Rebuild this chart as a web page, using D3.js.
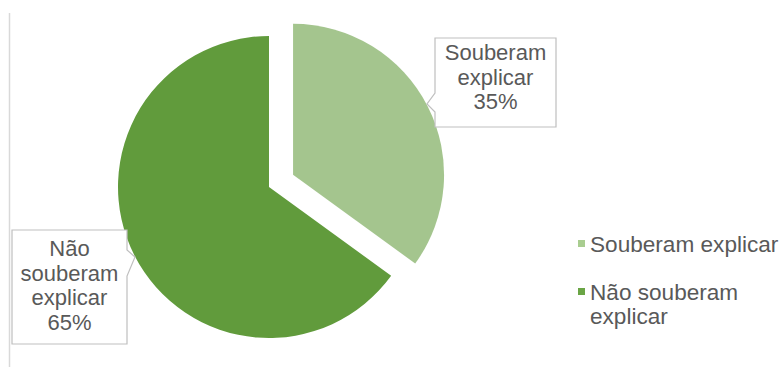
<!DOCTYPE html>
<html><head><meta charset="utf-8">
<script src="https://cdn.jsdelivr.net/npm/d3@7"></script>
<style>body{margin:0;background:#fff}svg{display:block}</style>
</head><body>
<script>
const categories = ["Souberam explicar", "Não souberam explicar"];
const values = [35, 65];
const colors = ["#a4c58e", "#619b3c"];
const legendColors = ["#a9cd90", "#6aa545"];
const labelLines = [["Souberam", "explicar", "35%"], ["Não", "souberam", "explicar", "65%"]];
const legendLines = [["Souberam explicar"], ["Não souberam", "explicar"]];

const W = 782, H = 367;
const svg = d3.select("body").append("svg").attr("width", W).attr("height", H);
const font = "'Liberation Sans', Arial, sans-serif";
const textColor = "#595959";

// left border line
svg.append("line").attr("x1", 9.5).attr("x2", 9.5).attr("y1", 13).attr("y2", H)
  .attr("stroke", "#d9d9d9").attr("stroke-width", 1.5);

const cx = 269, cy = 187, r = 151;
const pie = d3.pie().sort(null).value(d => d);
const arcs = pie(values);
const arc = d3.arc().innerRadius(0).outerRadius(r);
const explode = [27, 0];

const g = svg.append("g").attr("transform", `translate(${cx},${cy})`);
g.selectAll("path").data(arcs).join("path")
  .attr("d", arc)
  .attr("fill", (d, i) => colors[i])
  .attr("transform", (d, i) => {
    const a = (d.startAngle + d.endAngle) / 2;
    return `translate(${explode[i] * Math.sin(a)},${-explode[i] * Math.cos(a)})`;
  });

// callout boxes
const boxes = [
  {x0: 435, x1: 556, y0: 38, y1: 127, side: "left", p: [93, 427, 104, 112], cx: 495.5, base: 60},
  {x0: 12, x1: 127, y0: 230, y1: 344, side: "right", p: [250, 135, 257, 276], cx: 69.5, base: 256}
];
boxes.forEach((b, i) => {
  let d;
  if (b.side === "left") {
    d = `M${b.x0},${b.y0}H${b.x1}V${b.y1}H${b.x0}V${b.p[3]}L${b.p[1]},${b.p[2]}L${b.x0},${b.p[0]}Z`;
  } else {
    d = `M${b.x0},${b.y0}H${b.x1}V${b.p[0]}L${b.p[1]},${b.p[2]}L${b.x1},${b.p[3]}V${b.y1}H${b.x0}Z`;
  }
  svg.append("path").attr("d", d).attr("fill", "#fff").attr("stroke", "#bfbfbf").attr("stroke-width", 1.2);
  const t = svg.append("text").attr("font-family", font).attr("font-size", 22)
    .attr("fill", textColor).attr("text-anchor", "middle");
  labelLines[i].forEach((ln, k) => {
    t.append("tspan").attr("x", b.cx).attr("y", b.base + k * 24.5).text(ln);
  });
});

// legend
const legY = [252, 300];
categories.forEach((c, i) => {
  svg.append("rect").attr("x", 578).attr("y", legY[i] - 12).attr("width", 7).attr("height", 7)
    .attr("fill", legendColors[i]);
  const t = svg.append("text").attr("font-family", font).attr("font-size", 22.6).attr("fill", textColor);
  legendLines[i].forEach((ln, k) => {
    t.append("tspan").attr("x", 590).attr("y", legY[i] + k * 24).text(ln);
  });
});
</script>
</body></html>
